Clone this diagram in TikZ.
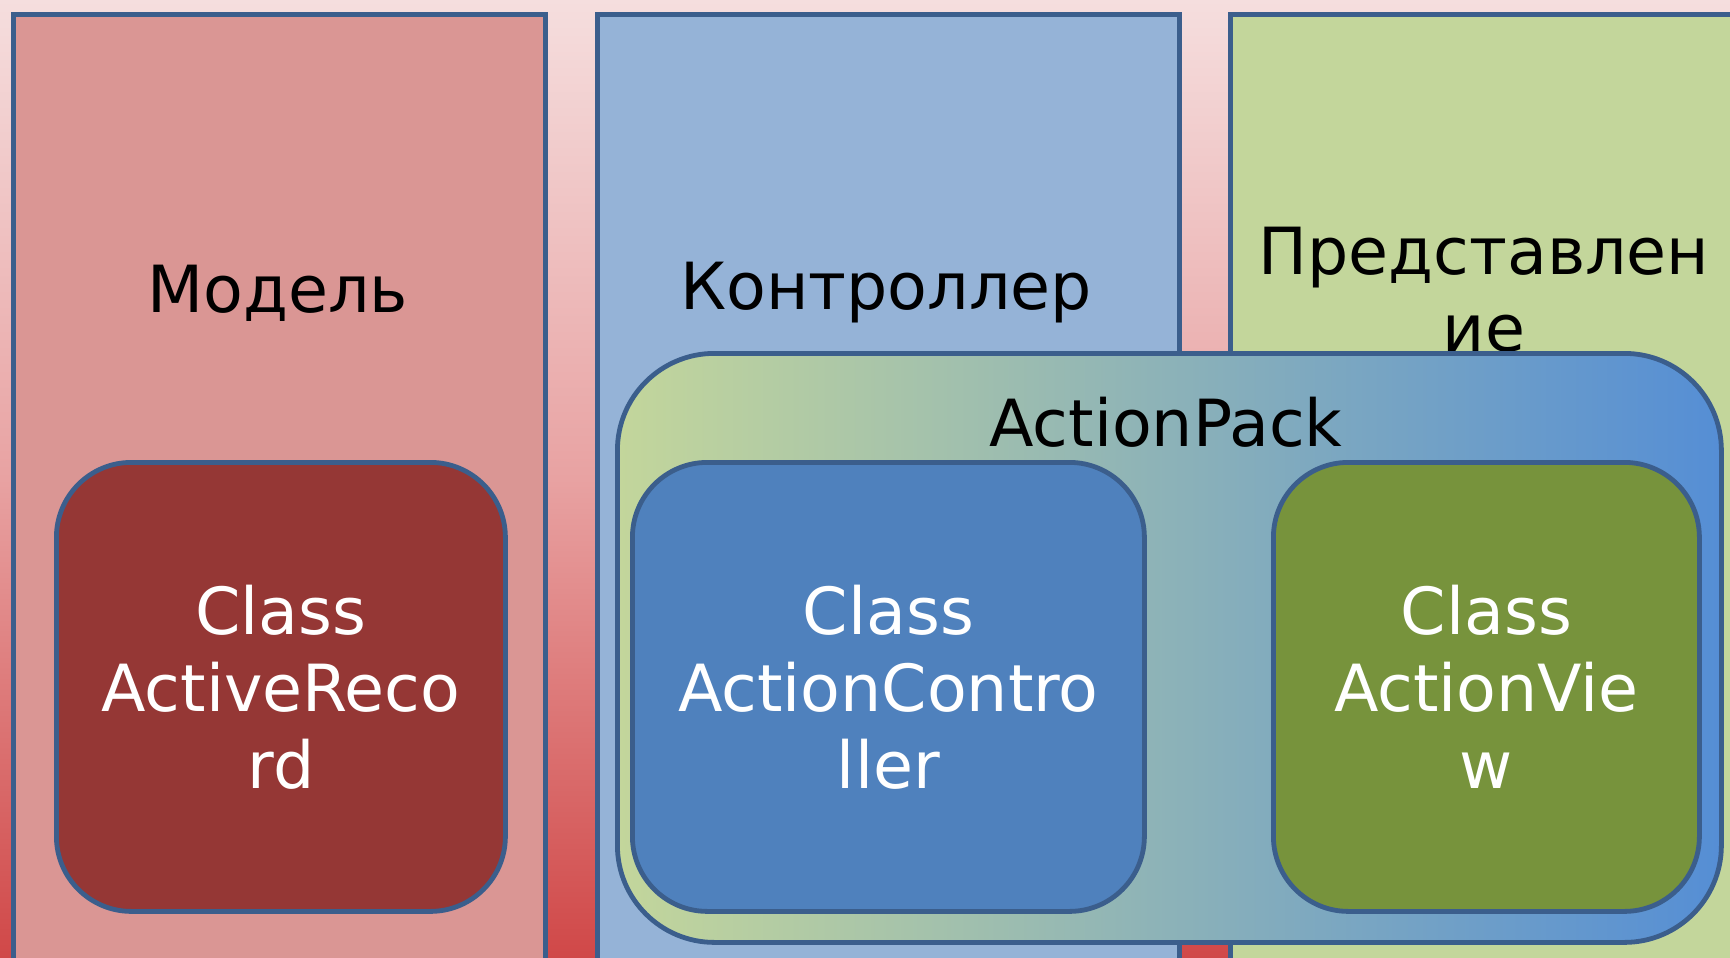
\documentclass[tikz,border=0pt]{standalone}
\usepackage{fontspec}
\setmainfont{DejaVu Sans}
\definecolor{bgtop}{HTML}{F5DEDE}
\definecolor{bgmid}{HTML}{E8A2A2}
\definecolor{bgbot}{HTML}{D04848}
\definecolor{edge}{HTML}{3B5E8C}
\definecolor{modelfill}{HTML}{DA9694}
\definecolor{ctrlfill}{HTML}{95B3D7}
\definecolor{viewfill}{HTML}{C3D69B}
\definecolor{arfill}{HTML}{953735}
\definecolor{acfill}{HTML}{4F81BD}
\definecolor{avfill}{HTML}{77933C}
\definecolor{apleft}{HTML}{C3D69B}
\definecolor{apright}{HTML}{558ED5}
\begin{document}
\begin{tikzpicture}[x=0.5pt,y=-0.5pt,
  column/.style={draw=edge,line width=2.4pt,rectangle,inner sep=0pt,anchor=north west,minimum height=499.5pt},
  classbox/.style={draw=edge,line width=2.4pt,rectangle,rounded corners=37.5pt,inner sep=0pt,anchor=north west,
    minimum height=224.5pt,text=white,align=center,font=\fontsize{32.5}{38.5}\selectfont},
  headlabel/.style={align=center,inner sep=0pt,font=\fontsize{32.5}{38.5}\selectfont}]
\useasboundingbox (0,0) rectangle (1730,958);
\shade[top color=bgtop, bottom color=bgbot, middle color=bgmid] (0,0) rectangle (1730,958);
\node[column,fill=modelfill,minimum width=266pt] (model) at (11,12) {};
\node[column,fill=ctrlfill,minimum width=291pt] (ctrl) at (595,12) {};
\node[column,fill=viewfill,minimum width=276pt] (view) at (1228,12) {};
\node[headlabel] (modeltxt) at (278,293) {Модель};
\node[headlabel] (ctrltxt) at (886,293) {Контроллер};
\node[headlabel] (viewtxt) at (1484,290) {Представлен\\ие};
\node[draw=edge,line width=2.4pt,rectangle,rounded corners=48.5pt,inner sep=0pt,anchor=north west,
  minimum width=552pt,minimum height=294.5pt,left color=apleft,right color=apright] (ap) at (615,351) {};
\node[headlabel] (aptxt) at (1166,422) {ActionPack};
\node[classbox,fill=arfill,minimum width=224.5pt] (ar) at (54,460) {Class\\ActiveReco\\rd};
\node[classbox,fill=acfill,minimum width=256pt] (ac) at (630,460) {Class\\ActionContro\\ller};
\node[classbox,fill=avfill,minimum width=213pt] (av) at (1271,460) {Class\\ActionVie\\w};
\end{tikzpicture}
\end{document}
